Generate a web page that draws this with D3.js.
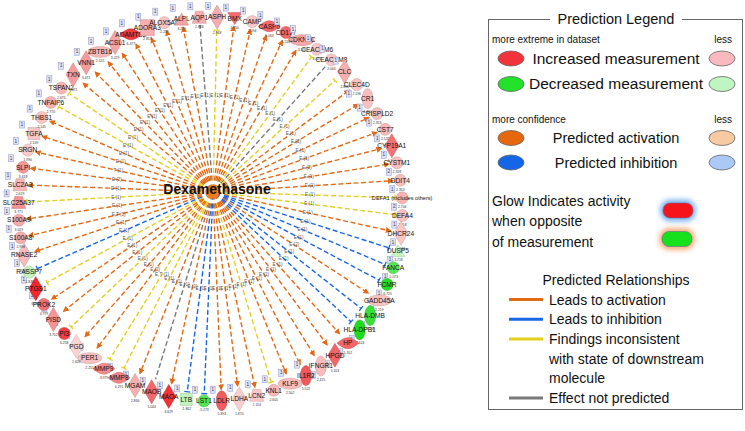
<!DOCTYPE html>
<html><head><meta charset="utf-8">
<script src="https://cdn.jsdelivr.net/npm/d3@7"></script>
<style>body{margin:0;background:#fff}svg{display:block;font-family:"Liberation Sans",Arial,sans-serif}</style>
</head><body><svg id="c" width="745" height="431"></svg>
<script>
// ---- data ----
const hubName = "Dexamethasone";
const genes = ["ACSL1","ADAMTS2","ADORA3","ALOX5AP","ALPL","AQP1","ASPH","BMX","CAMP","CASP5","CD177","CDKN2C","CEACAM6","CEACAM8","CLC","CLEC4D","CR1","CRISPLD2","CST7","CYP19A1","CYSTM1","DDIT4","DEFA1 (includes others)","DEFA4","DHCR24","DUSP5","FANCA","FCMR","GADD45A","HLA-DMB","HLA-DPB1","HP","HPGD","IFNGR1","IL1R2","KLF9","KNL1","LCN2","LDHA","LDLR","LST1","LTB","MAOA","MAOB","MGAM","MMP8","MMP9","PER1","PGD","PI3","PISD","PROK2","PTGS1","RASSF7","RNASE2","S100A8","S100A9","SLC25A37","SLC2A3","SLPI","SRGN","TGFA","THBS1","TNFAIP6","TSPAN2","TXN","VNN1","ZBTB16"];
const values = [3.229,6.477,2.853,2.239,3.259,2.886,2.948,4.950,2.094,5.033,5.110,3.120,2.021,2.044,2.890,2.196,2.310,2.353,2.532,4.726,2.328,2.353,2.704,2.258,2.063,-1.718,-5.073,-6.725,2.219,-6.100,-7.624,5.102,5.103,2.415,5.522,2.502,2.605,2.114,1.870,5.393,-5.273,-1.862,6.629,5.044,2.866,4.291,3.979,2.251,1.626,6.258,3.752,4.779,6.939,-1.839,2.512,2.994,3.029,3.771,2.629,3.618,1.990,2.109,2.145,2.770,2.675,3.471,3.471,2.525];
const types = ["enzyme","peptidase","gpcr","other","phosphatase","transporter","enzyme","kinase","other","peptidase","other","transcription","other","other","enzyme","other","receptor","other","other","enzyme","other","other","other","other","enzyme","phosphatase","other","other","transcription","receptor","receptor","peptidase","enzyme","receptor","receptor","transcription","other","transporter","enzyme","receptor","other","cytokine","enzyme","enzyme","enzyme","peptidase","peptidase","transcription","enzyme","other","enzyme","other","enzyme","other","enzyme","other","other","transporter","transporter","other","other","growth factor","other","other","other","enzyme","enzyme","transcription"];
// a = leads to activation, i = leads to inhibition, y = inconsistent, g = not predicted
const relations = ["a","a","a","a","a","g","y","a","a","a","a","a","y","g","y","a","a","a","a","a","a","a","y","y","a","i","i","i","a","i","i","a","a","a","a","a","y","a","a","a","i","i","a","g","a","y","y","a","a","y","a","a","y","i","a","a","a","y","a","a","a","a","a","y","y","a","a","a"];
const evidence = ["E (1)","E (1)","E (1)","E (1)","E (1)","E (1)","E (1)","E (1)","E (1)","E (1)","E (1)","E (1)","E (1)","E (1)","E (1)","E (1)","E (2)","E (1)","E (1)","E (2)","E (1)","E (1)","E (1)","E (1)","E (1)","E (1)","E (1)","E (1)","E (2)","E (1)","E (1)","E (1)","E (1)","E (1)","E (1)","E (1)","E (1)","E (1)","E (1)","E (1)","E (1)","E (1)","E (2)","E (1)","E (1)","E (1)","E,T (1)","E (2)","E (1)","E (1)","E (1)","E (1)","E (1)","E (1)","E (1)","E,T (1)","E (1)","E (1)","E (1)","E (2)","T (1)","E (1)","E (1)","E (1)","E (1)","E (1)","E (1)","E (1)"];
const findings = genes.map((g,i)=> [20,22].includes(i) ? 2 : 1);

const legendRows = ["Increased measurement","Decreased measurement","Predicted activation","Predicted inhibition"];
const relLegend = [["a",["Leads to activation"]],["i",["Leads to inhibition"]],["y",["Findings inconsistent","with state of downstream","molecule"]],["g",["Effect not predicted"]]];

// ---- setup ----
const svg = d3.select("#c");
const hx = 213, hy = 192;          // hub
const cx = 210.5, cy = 209, R = 192; // ring of targets
const relColor = {a:"#e36a14", i:"#1b66e3", y:"#e4cf1f", g:"#7a7a7a"};
const angle = d3.scaleLinear().domain([0, genes.length]).range([-29.8, 330.2]);
const upColor = d3.scaleLinear().domain([1.5,3.5,7]).range(["#fcd8d8","#f59c9c","#f0262b"]).clamp(true);
const downColor = d3.scaleLinear().domain([-1.5,-7]).range(["#cdf6c7","#1cdc1c"]).clamp(true);
const fillOf = v => v >= 0 ? upColor(v) : downColor(v);

const nodes = genes.map((g,i)=>{
  const a = angle(i)*Math.PI/180;
  const x = cx+R*Math.sin(a), y = cy-R*Math.cos(a);
  const dx = x-hx, dy = y-hy, L = Math.hypot(dx,dy);
  return {name:g, v:values[i], type:types[i], rel:relations[i], ev:evidence[i], f:findings[i],
    a, deg:angle(i), x, y, ux:dx/L, uy:dy/L, L};
});

const shapeSize = {enzyme:[7,12],peptidase:[11,5.5],gpcr:[7,8],transporter:[7,6],kinase:[7,6],phosphatase:[7,6],receptor:[5.5,10],transcription:[12,5.5],cytokine:[6,6],"growth factor":[6,6],other:[6,6]};

// markers
const defs = svg.append("defs");
["a","y","i"].forEach(k=>{
  const m = defs.append("marker").attr("id","m"+k).attr("markerUnits","userSpaceOnUse")
    .attr("markerWidth",10).attr("markerHeight",10).attr("orient","auto")
    .attr("viewBox","-5 -5 10 10").attr("refX",0).attr("refY",0);
  if (k==="a") m.append("path").attr("d","M-5,-3 L1,0 L-5,3 Z").attr("fill",relColor[k]);
  else m.append("path").attr("d","M0,-3 L0,3").attr("stroke",relColor[k]).attr("stroke-width",1.3);
});
const glowB = defs.append("filter").attr("id","gb").attr("x","-50%").attr("y","-50%").attr("width","200%").attr("height","200%");
glowB.append("feGaussianBlur").attr("stdDeviation",2.5);

// edges
const eg = svg.append("g");
nodes.forEach(n=>{
  const s = shapeSize[n.type];
  const off = Math.max(6, Math.min(12, Math.abs(n.ux)*s[0] + Math.abs(n.uy)*s[1])) + 1;
  const r0 = 4, r1 = n.L - off;
  eg.append("line")
    .attr("x1", hx + r0*n.ux).attr("y1", hy + r0*n.uy)
    .attr("x2", hx + r1*n.ux).attr("y2", hy + r1*n.uy)
    .attr("stroke", relColor[n.rel]).attr("stroke-width",1.4)
    .attr("stroke-dasharray","5,2.6")
    .attr("marker-end", n.rel==="g" ? null : "url(#m"+n.rel+")");
});
// edge labels
nodes.forEach(n=>{
  const r = 97;
  svg.append("text").attr("x", hx + r*n.ux).attr("y", hy + r*n.uy + 1.5)
    .attr("text-anchor","middle").attr("font-size",4.6).attr("fill","#555").text(n.ev);
});
// hub
svg.append("circle").attr("cx",hx).attr("cy",hy).attr("r",9).attr("fill","none").attr("stroke","#fff").attr("stroke-width",2.5);
svg.append("circle").attr("cx",hx).attr("cy",hy).attr("r",6.5).attr("fill","#ef7b1f");
svg.append("text").attr("x",217).attr("y",194).attr("text-anchor","middle")
  .attr("font-size",14).attr("font-weight","bold").attr("fill","#111").text(hubName);

// nodes
function shapePath(type){
  const [w,h] = shapeSize[type];
  switch(type){
    case "enzyme": return `M0,${-h} L${w},0 L0,${h} L${-w},0 Z`;
    case "peptidase": return `M${-w},0 Q${-w*0.4},${-h} 0,${-h} Q${w*0.4},${-h} ${w},0 Q${w*0.4},${h} 0,${h} Q${-w*0.4},${h} ${-w},0 Z`;
    case "gpcr": return `M${-w},${-h} H${w} V${h} H${-w} Z`;
    case "transporter": return `M${-w*0.55},${-h} H${w*0.55} L${w},${h} H${-w} Z`;
    case "kinase": return `M${-w},${-h} H${w} L0,${h} Z`;
    case "phosphatase": return `M0,${-h} L${w},${h} H${-w} Z`;
    case "cytokine": case "growth factor": return `M${-w},${-w} H${w} V${w} H${-w} Z`;
    default: return null;
  }
}
const ng = svg.append("g");
nodes.forEach(n=>{
  const g = ng.append("g").attr("transform",`translate(${n.x},${n.y})`);
  const fill = fillOf(n.v);
  const stroke = d3.color(fill).darker(0.6);
  const [w,h] = shapeSize[n.type];
  if (n.type==="receptor" || n.type==="transcription") g.append("ellipse").attr("rx",w).attr("ry",h).attr("fill",fill).attr("stroke",stroke).attr("stroke-width",0.5);
  else if (n.type==="other") g.append("circle").attr("r",6).attr("fill",fill).attr("stroke",stroke).attr("stroke-width",0.5);
  else g.append("path").attr("d",shapePath(n.type)).attr("fill",fill).attr("stroke",stroke).attr("stroke-width",0.5);
  g.append("text").attr("text-anchor","middle").attr("y",2.3).attr("font-size",n.name.length>12?5.6:6.6).attr("fill","#111").text(n.name);
  g.append("text").attr("text-anchor","middle").attr("y",Math.max(h,6)+4.5).attr("font-size",3.4).attr("fill","#333").text(n.v.toFixed(3));
  const d = ((n.deg%360)+360)%360;
  let bx=-9, by=-11;
  if (d>45 && d<150){ bx=-8; by=9; }
  else if (d>=240 && d<315){ bx=-12; by=-9; }
  const b = g.append("g").attr("transform",`translate(${bx},${by})`);
  b.append("rect").attr("x",-2.5).attr("y",-3.5).attr("width",5).attr("height",7).attr("fill","#dfe2f7").attr("stroke","#8d93c9").attr("stroke-width",0.5);
  b.append("text").attr("text-anchor","middle").attr("y",1.6).attr("font-size",4.5).attr("fill","#333").text(n.f);
});

// ---- legend ----
const L = svg.append("g");
L.append("rect").attr("x",488.5).attr("y",19.5).attr("width",254).attr("height",390).attr("fill","none").attr("stroke","#666").attr("stroke-width",1);
L.append("rect").attr("x",550).attr("y",11).attr("width",132).attr("height",16).attr("fill","#fff");
L.append("text").attr("x",616).attr("y",24).attr("text-anchor","middle").attr("font-size",14.5).attr("fill","#111").text("Prediction Legend");
L.append("text").attr("x",492).attr("y",42.5).attr("font-size",10).attr("fill","#111").text("more extreme in dataset");
L.append("text").attr("x",732).attr("y",42.5).attr("text-anchor","end").attr("font-size",10).attr("fill","#111").text("less");
L.append("text").attr("x",492).attr("y",122.5).attr("font-size",10).attr("fill","#111").text("more confidence");
L.append("text").attr("x",732).attr("y",122.5).attr("text-anchor","end").attr("font-size",10).attr("fill","#111").text("less");
const legC = [["#f2333b","#f9b9bf"],["#22e22a","#bff5c1"],["#e5680f","#f7caa2"],["#1565e8","#aac9f5"]];
const legY = [58.5,84,138,162.5];
legendRows.forEach((t,i)=>{
  L.append("ellipse").attr("cx",511).attr("cy",legY[i]).attr("rx",13).attr("ry",7.5).attr("fill",legC[i][0]).attr("stroke","#666").attr("stroke-width",0.8);
  L.append("ellipse").attr("cx",722).attr("cy",legY[i]).attr("rx",13).attr("ry",7.5).attr("fill",legC[i][1]).attr("stroke","#666").attr("stroke-width",0.8);
  L.append("text").attr("x",616).attr("y",legY[i]+5.4).attr("text-anchor","middle").attr("font-size",i<2?15.5:14.5).attr("fill","#111").text(t);
});
L.append("text").attr("x",492).attr("y",206).attr("font-size",14).attr("fill","#111").text("Glow Indicates activity");
L.append("text").attr("x",492).attr("y",226).attr("font-size",14).attr("fill","#111").text("when opposite");
L.append("text").attr("x",492).attr("y",247).attr("font-size",14).attr("fill","#111").text("of measurement");
L.append("rect").attr("x",660).attr("y",199.5).attr("width",36).attr("height",22).attr("rx",10).attr("fill","#7fb4f0").attr("filter","url(#gb)");
L.append("rect").attr("x",663).attr("y",203).attr("width",30).attr("height",15).attr("rx",7).attr("fill","#f4141a").attr("stroke","#6a6aa0").attr("stroke-width",0.6);
L.append("rect").attr("x",659).attr("y",228).attr("width",36).attr("height",22).attr("rx",10).attr("fill","#f5ae7c").attr("filter","url(#gb)");
L.append("rect").attr("x",662).attr("y",231.5).attr("width",30).attr("height",15).attr("rx",7).attr("fill","#15e21b").attr("stroke","#6a6aa0").attr("stroke-width",0.6);
L.append("text").attr("x",616).attr("y",285).attr("text-anchor","middle").attr("font-size",14).attr("fill","#111").text("Predicted Relationships");
let ly = 299.5;
relLegend.forEach(([k,lines])=>{
  L.append("line").attr("x1",509).attr("x2",543).attr("y1",ly).attr("y2",ly).attr("stroke",relColor[k]).attr("stroke-width",3);
  lines.forEach((t,j)=>{
    L.append("text").attr("x",549).attr("y",ly+5+j*19.7).attr("font-size",14).attr("fill","#111").text(t);
  });
  ly += 19.7*lines.length;
});
</script></body></html>
